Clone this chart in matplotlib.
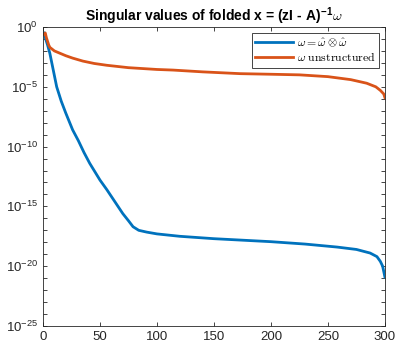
import numpy as np
import matplotlib
matplotlib.use("Agg")
import matplotlib.pyplot as plt
from matplotlib.ticker import FixedLocator, NullFormatter

# values (index, log10 of singular value)
kron_idx = [1, 2, 4, 6, 9, 12, 16, 20, 26, 31, 36, 41, 50, 56, 63, 70, 75, 79, 84, 91,
            100, 120, 150, 200, 230, 258, 275, 287, 293, 296, 298, 300]
kron_log = [-0.5, -0.9, -1.5, -2.2, -3.6, -5.0, -6.2, -7.2, -8.6, -9.5, -10.5, -11.4, -12.8,
            -13.6, -14.6, -15.6, -16.2, -16.7, -17.0, -17.15, -17.3, -17.5, -17.7, -17.95,
            -18.15, -18.4, -18.6, -18.9, -19.2, -19.6, -20.0, -20.9]

unst_idx = [1, 2, 3, 5, 6, 10, 15, 20, 26, 35, 45, 56, 75, 100, 114, 140, 173, 200, 225,
            250, 270, 284, 292, 296, 299, 300]
unst_log = [-0.6, -0.5, -0.9, -1.5, -1.7, -2.0, -2.2, -2.4, -2.6, -2.85, -3.05, -3.2, -3.4,
            -3.55, -3.6, -3.75, -3.9, -3.95, -4.0, -4.15, -4.4, -4.7, -5.0, -5.3, -5.6, -5.9]

plt.rcParams['font.family'] = ['Liberation Sans', 'DejaVu Sans']
plt.rcParams['mathtext.fontset'] = 'cm'

fig = plt.figure(figsize=(3.96, 3.45), dpi=100)
ax = fig.add_axes([0.1086, 0.0551, 0.8634, 0.8666])

ax.semilogy(kron_idx, 10.0 ** np.array(kron_log), color='#0072BD', linewidth=2,
            label=r'$\omega = \hat{\omega} \otimes \hat{\omega}$')
ax.semilogy(unst_idx, 10.0 ** np.array(unst_log), color='#D95319', linewidth=2,
            label=r'$\omega\ \mathrm{unstructured}$')

ax.set_xlim(0, 300)
ax.set_ylim(1e-25, 1e0)
ax.set_xticks(range(0, 301, 50))
ax.yaxis.set_major_locator(FixedLocator([10.0 ** e for e in range(-25, 1, 5)]))
ax.yaxis.set_minor_locator(FixedLocator([10.0 ** e for e in range(-25, 1)]))
ax.yaxis.set_minor_formatter(NullFormatter())

ax.tick_params(which='both', direction='in', top=True, right=True, length=3,
               width=0.6, colors='#262626', labelsize=9.5, labelcolor='#262626')
for sp in ax.spines.values():
    sp.set_color('#262626')
    sp.set_linewidth(0.6)

ax.set_title(r'Singular values of folded x = (zI - A)$^{\mathregular{-1}}\omega$',
             fontsize=10, fontweight='bold', pad=4)

leg = ax.legend(loc='upper right', fontsize=8.5, fancybox=False, framealpha=1,
                edgecolor='#262626', borderpad=0.3, handlelength=3.2, handletextpad=0.3,
                labelspacing=0.2, borderaxespad=0.5)
leg.get_frame().set_linewidth(0.6)

fig.savefig('out.png', dpi=100)
